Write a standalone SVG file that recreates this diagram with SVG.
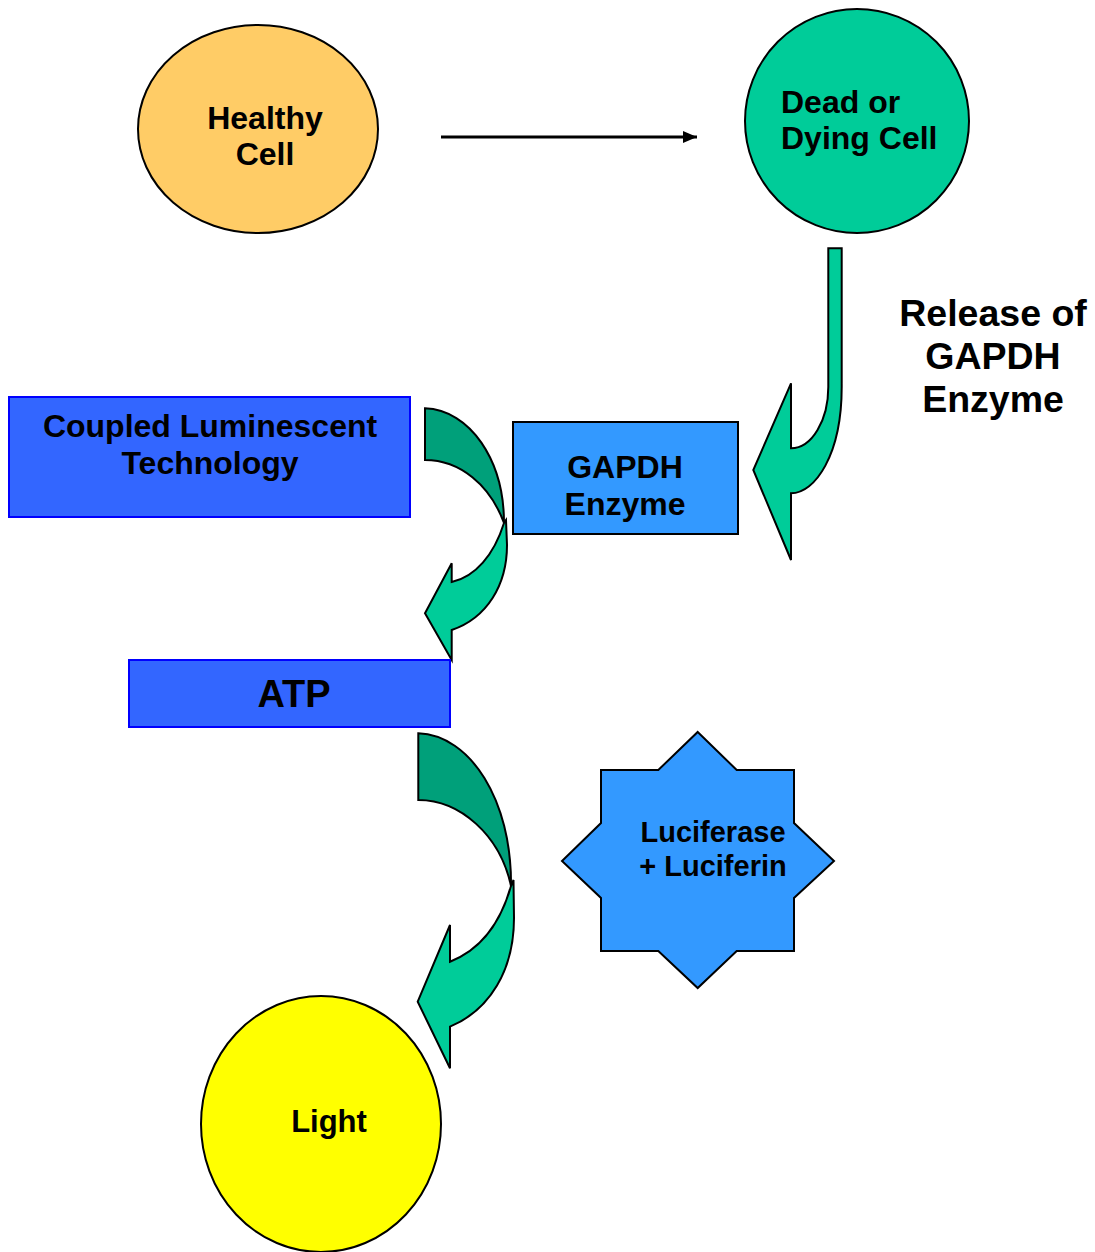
<svg xmlns="http://www.w3.org/2000/svg" width="1095" height="1252" viewBox="0 0 1095 1252">
<defs>
<style>
text{font-family:"Liberation Sans",Arial,sans-serif;font-weight:bold;fill:#000}
.s{stroke:#000;stroke-width:2}
.lt{fill:#00CC99;stroke:#000;stroke-width:2;stroke-linejoin:miter}
.dk{fill:#00A07A;stroke:#000;stroke-width:2}
</style>
<marker id="ah" markerWidth="14" markerHeight="12" refX="14" refY="6" orient="auto" markerUnits="userSpaceOnUse">
<path d="M0,0 L14,6 L0,12 Z" fill="#000"/>
</marker>
</defs>
<rect width="1095" height="1252" fill="#fff"/>

<g id="connectors">
<line x1="441" y1="137" x2="697" y2="137" stroke="#000" stroke-width="3" marker-end="url(#ah)"/>
<path class="lt" d="M828.3,248.3 L841.7,248.3 L841.7,387 C841.7,455 815,493.3 791,493.3 L791,560 L753.3,470 L791,383.3 L791,448.3 C812,448.3 828.3,420 828.3,387 Z"/>
<path class="dk" d="M425,408.3 C470,410 504,460 504,523 C490,485 460,460 425,460 Z"/>
<path class="lt" d="M504,523 C494,555 475,577 451.7,582 L451.7,563.3 L425,613.3 L451.7,660 L451.7,630 C487,618 507,585 507,545 L506,520 Z"/>
<path class="dk" d="M418.3,733.3 C470,735 512,800 511,886 C500,835 460,800 418.3,800 Z"/>
<path class="lt" d="M511,886 C500,925 480,950 450,961.7 L450,925 L417.7,1001.7 L450,1068.3 L450,1026.7 C490,1010 514,970 514,918 L513.5,880 Z"/>
</g>

<g id="healthy">
<ellipse class="s" cx="258" cy="129" rx="120" ry="104" fill="#FFCC66"/>
<text x="265" y="129" font-size="32" text-anchor="middle">Healthy</text>
<text x="265" y="165" font-size="32" text-anchor="middle">Cell</text>
</g>

<g id="dead">
<ellipse class="s" cx="857" cy="121" rx="112" ry="112" fill="#00CC99"/>
<text x="781" y="113" font-size="32">Dead or</text>
<text x="781" y="149" font-size="32">Dying Cell</text>
</g>

<g id="release">
<text x="993" y="326" font-size="37.5" text-anchor="middle">Release of</text>
<text x="993" y="369" font-size="37.5" text-anchor="middle">GAPDH</text>
<text x="993" y="412" font-size="37.5" text-anchor="middle">Enzyme</text>
</g>

<g id="coupled">
<rect x="9" y="397" width="401" height="120" fill="#3366FF" stroke="#0000FF" stroke-width="2"/>
<text x="210" y="437" font-size="32" text-anchor="middle">Coupled Luminescent</text>
<text x="210" y="474" font-size="32" text-anchor="middle">Technology</text>
</g>

<g id="gapdh">
<rect class="s" x="513" y="422" width="225" height="112" fill="#3399FF"/>
<text x="625" y="478" font-size="32" text-anchor="middle">GAPDH</text>
<text x="625" y="515" font-size="32" text-anchor="middle">Enzyme</text>
</g>

<g id="atp">
<rect x="129" y="660" width="321" height="67" fill="#3366FF" stroke="#0000FF" stroke-width="2"/>
<text x="294" y="707" font-size="38" text-anchor="middle">ATP</text>
</g>

<g id="luciferase">
<polygon class="s" fill="#3399FF" points="697.7,732 736.7,770 794,770 794,823 834,861 794,898 794,951 736.7,951 697.7,988 658.3,951 601,951 601,898 562,861 601,823 601,770 658.3,770"/>
<text x="713" y="842" font-size="29" text-anchor="middle">Luciferase</text>
<text x="713" y="876" font-size="29" text-anchor="middle">+ Luciferin</text>
</g>

<g id="light">
<ellipse class="s" cx="321" cy="1124" rx="120" ry="128" fill="#FFFF00"/>
<text x="329" y="1132" font-size="31" text-anchor="middle">Light</text>
</g>
</svg>
